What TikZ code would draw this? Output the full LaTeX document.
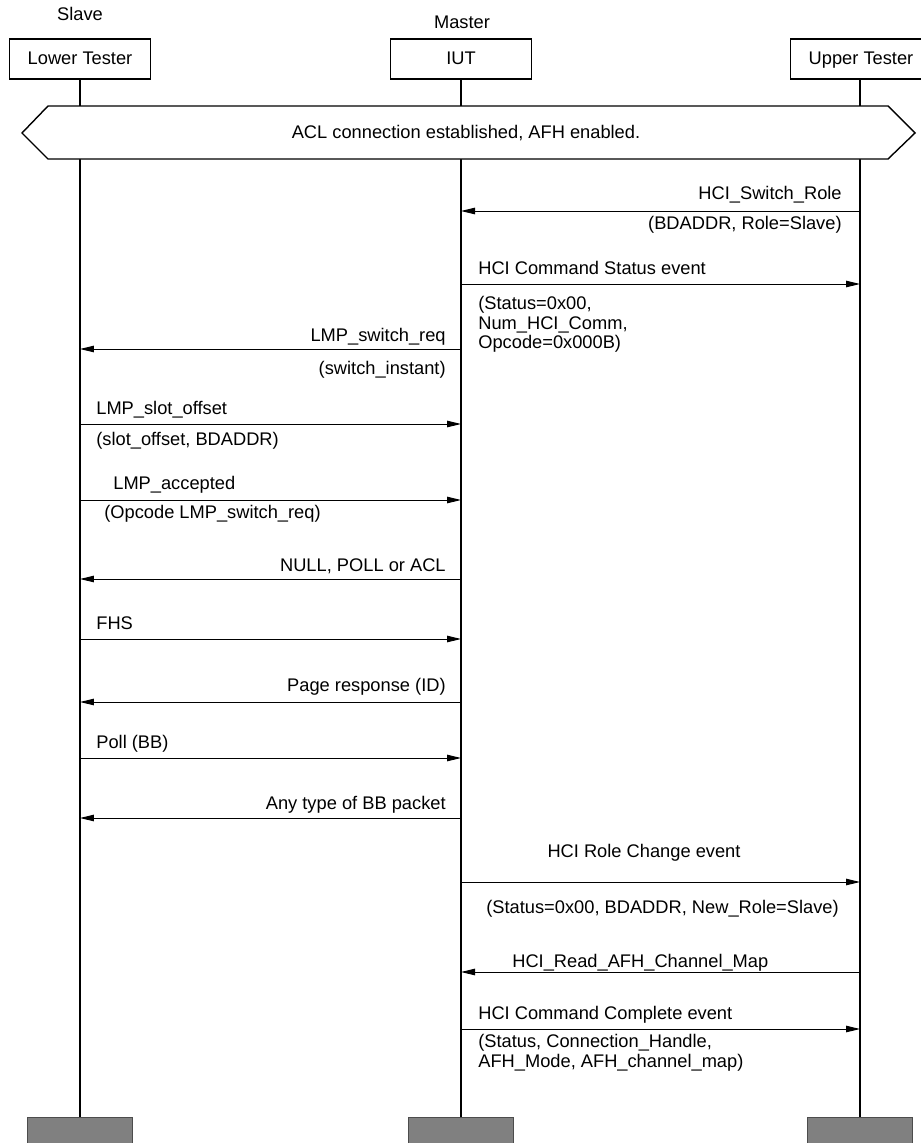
\documentclass[tikz,border=0pt]{standalone}
\usepackage{fontspec}
\setmainfont{Liberation Sans}
\usetikzlibrary{arrows.meta,positioning}
\definecolor{LineInk}{HTML}{000000}
\definecolor{EndGray}{HTML}{808080}

\begin{document}
\begin{tikzpicture}[x=0.02cm,y=-0.02cm,
  every node/.style={font=\fontsize{10.4}{11.2}\selectfont,inner sep=0pt},
  actor/.style={draw=LineInk,line width=1.1pt,fill=white,minimum width=2.82cm,minimum height=0.8cm,text height=1.6ex,text depth=0.4ex},
  endbox/.style={draw=black!70,line width=0.6pt,fill=EndGray,minimum width=2.1cm,minimum height=0.6cm,anchor=north},
  life/.style={line width=1.1pt,draw=LineInk},
  msg/.style={-{Triangle[length=2.8mm,width=1.3mm]},line width=0.55pt,draw=LineInk},
  lbl/.style={anchor=base west},
  rlbl/.style={anchor=base east},
  multi/.style={anchor=north west,align=left}
]
\useasboundingbox (0,0) rectangle (920,1143);

% lifeline heads and ends
\node[actor] (lt) at (80,59) {Lower Tester};
\node[actor] (iut) at (461,59) {IUT};
\node[actor] (ut) at (861,59) {Upper Tester};
\node[anchor=base] (slave) at (80,20) {Slave};
\node[anchor=base] (master) at (462,28) {Master};
\node[endbox] (ltend) at (80,1117) {};
\node[endbox] (iutend) at (461,1117) {};
\node[endbox] (utend) at (860,1117) {};
\draw[life] (lt) -- (lt |- ltend.north);
\draw[life] (iut) -- (iut |- iutend.north);
\draw[life] (ut.south -| utend) -- (utend);

% condition
\draw[fill=white,line width=0.8pt] (22,133) -- (48,106) -- (888,106) -- (915,133) -- (888,159) -- (48,159) -- cycle;
\node (acl) at (466,133) {ACL connection established, AFH enabled.};

% messages
\draw[msg] (utend |- 0,211) -- (iut |- 0,211);
\node[rlbl] (m1) at (842,199) {HCI\_Switch\_Role};
\node[rlbl] (m1p) at (842,229) {(BDADDR, Role=Slave)};

\draw[msg] (iut |- 0,284) -- (utend |- 0,284);
\node[lbl] (m2) at (478,274) {HCI Command Status event};
\node[multi] (m2p) at (478,296) {(Status=0x00,\\Num\_HCI\_Comm,\\Opcode=0x000B)};

\draw[msg] (iut |- 0,349) -- (lt |- 0,349);
\node[rlbl] (m3) at (446,341) {LMP\_switch\_req};
\node[rlbl] (m3p) at (446,374) {(switch\_instant)};

\draw[msg] (lt |- 0,424) -- (iut |- 0,424);
\node[lbl] (m4) at (96,414) {LMP\_slot\_offset};
\node[lbl] (m4p) at (96,445) {(slot\_offset, BDADDR)};

\draw[msg] (lt |- 0,500) -- (iut |- 0,500);
\node[lbl] (m5) at (113,489) {LMP\_accepted};
\node[lbl] (m5p) at (104,518) {(Opcode LMP\_switch\_req)};

\draw[msg] (iut |- 0,579) -- (lt |- 0,579);
\node[rlbl] (m6) at (446,571) {NULL, POLL or ACL};

\draw[msg] (lt |- 0,639) -- (iut |- 0,639);
\node[lbl] (m7) at (96,629) {FHS};

\draw[msg] (iut |- 0,702) -- (lt |- 0,702);
\node[rlbl] (m8) at (446,691) {Page response (ID)};

\draw[msg] (lt |- 0,758) -- (iut |- 0,758);
\node[lbl] (m9) at (96,748) {Poll (BB)};

\draw[msg] (iut |- 0,818) -- (lt |- 0,818);
\node[rlbl] (m10) at (446,809) {Any type of BB packet};

\draw[msg] (iut |- 0,882) -- (utend |- 0,882);
\node[anchor=base] (m11) at (644,857) {HCI Role Change event};
\node[lbl] (m11p) at (486,913) {(Status=0x00, BDADDR, New\_Role=Slave)};

\draw[msg] (utend |- 0,972) -- (iut |- 0,972);
\node[lbl] (m12) at (512,967) {HCI\_Read\_AFH\_Channel\_Map};

\draw[msg] (iut |- 0,1029) -- (utend |- 0,1029);
\node[lbl] (m13) at (478,1019) {HCI Command Complete event};
\node[multi] (m13p) at (478,1034) {(Status, Connection\_Handle,\\AFH\_Mode, AFH\_channel\_map)};
\end{tikzpicture}
\end{document}
